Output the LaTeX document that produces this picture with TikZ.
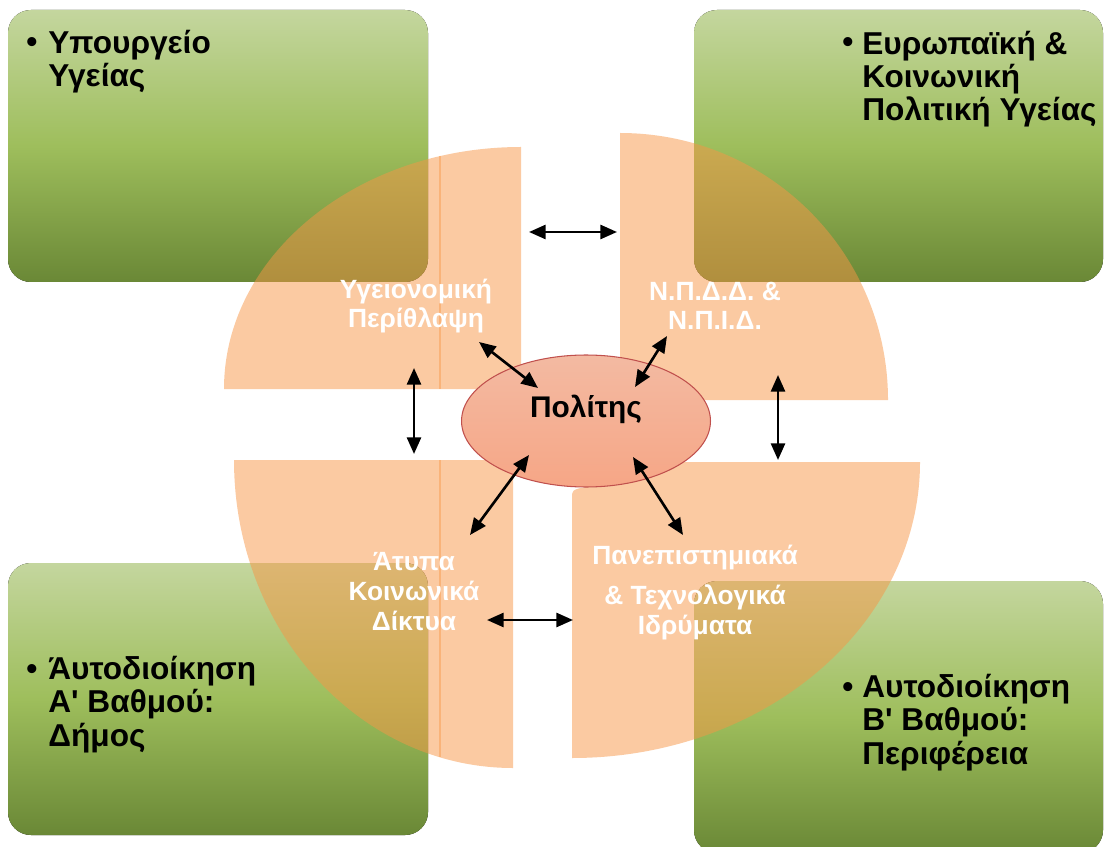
\documentclass[tikz,border=0pt]{standalone}
\usepackage{fontspec}
\setmainfont{Liberation Sans}
\usetikzlibrary{arrows.meta, shapes.geometric}

\definecolor{leafTop}{RGB}{196,214,158}
\definecolor{leafMid}{RGB}{158,190,92}
\definecolor{leafBot}{RGB}{106,136,54}
\definecolor{peach}{RGB}{247,150,70}
\definecolor{citizenTop}{RGB}{243,186,162}
\definecolor{citizenBot}{RGB}{246,166,134}
\definecolor{citizenLine}{RGB}{192,80,77}

\begin{document}
\begin{tikzpicture}
  [x=0.02cm, y=-0.02cm,
   field/.style={rounded corners=13pt, top color=leafTop, bottom color=leafBot,
                 middle color=leafMid},
   quarter/.style={fill=peach, fill opacity=0.5},
   seam/.style={draw=peach, line width=0.6pt, opacity=0.45},
   bullet/.style={anchor=base west, inner sep=0pt,
                  font=\fontsize{18}{19}\selectfont\bfseries},
   fieldtext/.style={bullet, align=left},
   sector/.style={anchor=base, inner sep=0pt, align=center, text=white,
                  font=\fontsize{15}{17}\selectfont\bfseries},
   citizen/.style={ellipse, minimum width=4.98cm, minimum height=2.64cm,
                   draw=citizenLine, line width=0.6pt,
                   top color=citizenTop, bottom color=citizenBot},
   duo/.style={{Triangle[length=9.5pt,width=8pt]}-{Triangle[length=9.5pt,width=8pt]},
               line width=1.5pt}]

  \useasboundingbox (0,0) rectangle (1104,847);

  % Pedia (gonies)
  \fill [field] (8,10) rectangle (428,282);
  \fill [field] (694,10) rectangle (1103,282);
  \fill [field] (8,563) rectangle (428,835);
  \fill [field] (694,581) rectangle (1103,853);

  % (base = grammi teleutaias seiras)
  \node (ministrydot) at (26,53) [bullet] {•};
  \node (ministry) at (48,87) [fieldtext] {Υπουργείο\\Υγείας};
  \node (europedot) at (842,53) [bullet] {•};
  \node (europe) at (862,121) [fieldtext]
      {Ευρωπαϊκή \&\\Κοινωνική\\Πολιτική Υγείας};
  \node (municipdot) at (26,679) [bullet] {•};
  \node (municip) at (48,746) [fieldtext]
      {Άυτοδιοίκηση\\Α\textquotesingle{} Βαθμού:\\Δήμος};
  \node (regiondot) at (842,697) [bullet] {•};
  \node (region) at (862,764) [fieldtext]
      {Αυτοδιοίκηση\\Β\textquotesingle{} Βαθμού:\\Περιφέρεια};

  % Tetartimoria
  \fill [quarter] (521,389) -- (224,389)
    arc [start angle=180, end angle=270, x radius=297, y radius=242] -- cycle;
  \fill [quarter] (620,400) -- (620,133)
    arc [start angle=270, end angle=360, x radius=268, y radius=267] -- cycle;
  \fill [quarter] (513,460) -- (234,460)
    arc [start angle=180, end angle=90, x radius=279, y radius=308] -- cycle;
  \fill [quarter] (920,462)
    arc [start angle=0, end angle=90, x radius=348, y radius=296]
    -- (572,494) .. controls (572,489) and (580,487) .. (600,486)
    -- (600,462) -- cycle;
  \draw [seam] (440,156) -- (440,389);
  \draw [seam] (440,460) -- (440,757);

  \node (care) at (416,328) [sector] {Υγειονομική\\Περίθλαψη};
  \node (legal) at (715,330) [sector] {Ν.Π.Δ.Δ. \&\\Ν.Π.Ι.Δ.};
  \node (networks) at (414,630) [sector] {Άτυπα\\Κοινωνικά\\Δίκτυα};
  \node (academia) at (695,634) [sector]
      {Πανεπιστημιακά\\[5.5pt]\& Τεχνολογικά\\Ιδρύματα};

  % Politis
  \node (citizen) at (586,421) [citizen] {};
  \node (citizenname) at (586,417) [anchor=base, inner sep=0pt,
      font=\fontsize{17}{20}\selectfont\bfseries] {Πολίτης};

  % Velh
  \coordinate (topL) at (529,232);
  \coordinate (topR) at (617,232);
  \coordinate (leftU) at (414,368);
  \coordinate (leftD) at (414,454);
  \coordinate (rightU) at (778,375);
  \coordinate (rightD) at (778,460);
  \coordinate (botL) at (487,620);
  \coordinate (botR) at (573,620);
  \coordinate (careEnd) at (479,342);
  \coordinate (careIn) at (538,388);
  \coordinate (legalEnd) at (667,336);
  \coordinate (legalIn) at (635,387);
  \coordinate (netEnd) at (470,535);
  \coordinate (netIn) at (529,455);
  \coordinate (acadEnd) at (683,535);
  \coordinate (acadIn) at (633,457);

  \draw [duo] (topL) -- (topR);
  \draw [duo] (leftU) -- (leftD);
  \draw [duo] (rightU) -- (rightD);
  \draw [duo] (botL) -- (botR);
  \draw [duo] (careEnd) -- (careIn);
  \draw [duo] (legalEnd) -- (legalIn);
  \draw [duo] (netEnd) -- (netIn);
  \draw [duo] (acadEnd) -- (acadIn);

\end{tikzpicture}
\end{document}
